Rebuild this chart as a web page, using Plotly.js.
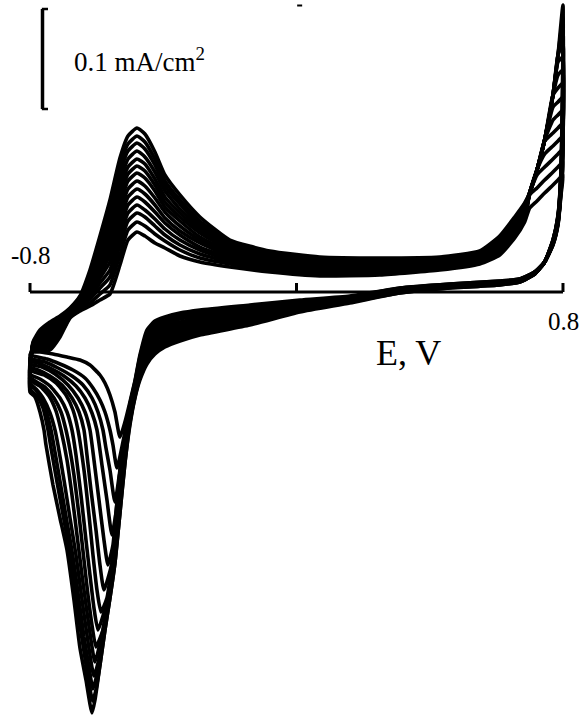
<!DOCTYPE html>
<html>
<head>
<meta charset="utf-8">
<script src="https://cdn.plot.ly/plotly-3.0.1.min.js"></script>
<style>
  html, body { margin: 0; padding: 0; background: #ffffff; }
  #chart { width: 586px; height: 718px; }
</style>
</head>
<body>
<div id="chart"></div>
<script>
// Repeated cyclic voltammograms, -0.8 V ... +0.8 V, 14 consecutive cycles (first cycle first).
// Currents are in µA/cm², potentials in V.

// Forward (anodic) sweep: potential grid shared by all cycles
const anodicE = [-0.800, -0.791, -0.770, -0.740, -0.710, -0.680, -0.650, -0.620, -0.590, -0.560,
                 -0.530, -0.506, -0.479, -0.455, -0.425, -0.395, -0.350, -0.290, -0.200, -0.080,
                  0.070,  0.250,  0.430,  0.550,  0.610,  0.655,  0.685,  0.700,  0.722,  0.745,
                  0.770,  0.785,  0.800];

// Forward sweep current of every cycle
const anodicI = [
  [-60,-60,-60,-58,-45,-26,-19,-14,-8,-2, 27,52,60,56,49,44,36,30,25,20, 16,17,22,28,37,54,70,84,91,99, 107,112,117],
  [-63,-59,-58,-55,-43,-25,-18,-11,-2,7, 37,62,70,66,58,51,42,34,28,22, 18,19,23,29,39,56,72,97,104,112, 120,125,130],
  [-66,-58,-56,-53,-41,-24,-16,-7,4,15, 47,71,79,75,66,57,47,38,30,24, 19,20,24,30,40,58,73,99,117,125, 133,138,143],
  [-69,-58,-54,-51,-40,-23,-15,-5,9,22, 55,79,87,82,73,63,52,42,32,25, 21,21,25,31,42,59,75,99,122,138, 146,151,156],
  [-72,-57,-53,-49,-38,-23,-14,-2,14,30, 63,87,95,90,80,69,57,45,34,27, 22,23,26,32,43,61,76,99,122,151, 159,164,169],
  [-75,-56,-51,-46,-36,-22,-13,1,18,37, 71,95,103,98,87,74,61,49,36,29, 24,24,27,33,45,63,78,99,122,152, 172,177,182],
  [-78,-55,-49,-44,-35,-21,-12,4,23,44, 79,103,111,106,94,80,66,52,38,30, 25,25,28,34,46,64,79,99,122,152, 185,190,195],
  [-82,-55,-48,-42,-33,-20,-10,6,28,51, 88,111,119,114,101,85,71,55,40,32, 27,27,29,35,48,66,81,99,122,152, 197,204,209],
  [-85,-54,-46,-40,-32,-20,-9,9,33,58, 95,118,126,121,107,90,75,59,42,33, 28,28,30,36,49,67,82,99,122,152, 197,217,222],
  [-88,-53,-45,-38,-30,-19,-8,11,37,64, 102,125,133,128,113,95,79,62,44,35, 29,29,31,37,50,69,83,99,122,152, 197,230,235],
  [-91,-52,-43,-36,-29,-18,-7,14,42,71, 110,133,141,135,120,101,83,65,46,36, 31,30,32,38,52,70,85,99,122,152, 197,237,248],
  [-94,-52,-41,-34,-27,-17,-6,17,47,78, 119,141,149,143,127,106,88,68,48,38, 32,32,33,39,53,72,86,99,122,152, 197,237,261],
  [-97,-51,-40,-32,-26,-17,-5,19,51,85, 126,148,156,150,133,111,92,71,50,39, 33,33,34,40,55,73,88,99,122,152, 197,237,274],
  [-100,-50,-38,-30,-24,-16,-4,22,56,92, 134,156,164,158,140,117,97,75,52,41, 35,34,35,41,56,75,89,99,122,152, 197,237,287]
];

// Reverse sweep from the switching potential down to -0.29 V
const reverseE = [0.794, 0.785, 0.770, 0.745, 0.715, 0.670, 0.610, 0.460, 0.310, 0.160, 0.010, -0.140, -0.290];

const reverseI = [
  [97,67,47,30,20,13,11,8,4,-4,-8,-13,-18],
  [100,68,47,30,20,13,11,8,4,-5,-9,-15,-20],
  [102,69,48,30,20,13,10,7,3,-5,-10,-16,-22],
  [104,69,48,30,20,12,10,7,3,-6,-11,-18,-24],
  [106,70,49,30,19,12,10,7,2,-6,-12,-19,-26],
  [108,71,49,30,19,12,9,6,2,-7,-13,-21,-28],
  [110,72,50,30,19,12,9,6,2,-7,-14,-22,-30],
  [112,72,50,30,19,11,9,6,1,-8,-14,-24,-31],
  [114,73,50,30,19,11,9,6,1,-8,-15,-25,-33],
  [116,74,51,30,19,11,8,5,1,-9,-16,-27,-35],
  [117,75,51,30,18,11,8,5,0,-9,-17,-28,-37],
  [119,75,52,30,18,10,8,5,0,-10,-18,-30,-39],
  [121,76,52,30,18,10,7,4,-1,-10,-19,-31,-41],
  [122,77,52,30,18,10,7,4,-1,-11,-20,-33,-43]
];

// Cathodic peak region of the reverse sweep, -0.35 V down to -0.8 V
const peakE = [
  [-0.350,-0.395,-0.425,-0.449,-0.470,-0.485,-0.500,-0.515,-0.530,-0.545,-0.560,-0.575,-0.590,-0.620,-0.650,-0.689,-0.731,-0.770,-0.800],
  [-0.350,-0.395,-0.425,-0.449,-0.470,-0.485,-0.500,-0.518,-0.539,-0.551,-0.560,-0.575,-0.590,-0.611,-0.635,-0.671,-0.710,-0.749,-0.800],
  [-0.350,-0.395,-0.425,-0.449,-0.470,-0.485,-0.500,-0.527,-0.545,-0.560,-0.572,-0.581,-0.596,-0.614,-0.641,-0.674,-0.716,-0.755,-0.800],
  [-0.350,-0.395,-0.425,-0.449,-0.470,-0.485,-0.500,-0.527,-0.542,-0.554,-0.569,-0.584,-0.599,-0.614,-0.635,-0.662,-0.698,-0.740,-0.776,-0.800],
  [-0.350,-0.395,-0.425,-0.449,-0.470,-0.485,-0.500,-0.527,-0.542,-0.551,-0.566,-0.578,-0.593,-0.608,-0.620,-0.635,-0.656,-0.686,-0.725,-0.764,-0.800],
  [-0.350,-0.395,-0.425,-0.449,-0.470,-0.485,-0.500,-0.524,-0.539,-0.554,-0.578,-0.590,-0.602,-0.617,-0.629,-0.638,-0.653,-0.674,-0.704,-0.740,-0.776,-0.800],
  [-0.350,-0.395,-0.425,-0.449,-0.470,-0.485,-0.500,-0.524,-0.539,-0.554,-0.569,-0.587,-0.599,-0.611,-0.623,-0.638,-0.656,-0.671,-0.692,-0.722,-0.758,-0.800],
  [-0.350,-0.395,-0.425,-0.449,-0.470,-0.485,-0.500,-0.521,-0.536,-0.551,-0.566,-0.596,-0.608,-0.620,-0.632,-0.647,-0.662,-0.674,-0.689,-0.710,-0.740,-0.770,-0.800],
  [-0.350,-0.395,-0.425,-0.449,-0.470,-0.485,-0.500,-0.521,-0.536,-0.551,-0.566,-0.581,-0.602,-0.614,-0.626,-0.638,-0.653,-0.668,-0.680,-0.692,-0.707,-0.728,-0.755,-0.800],
  [-0.350,-0.395,-0.425,-0.449,-0.470,-0.485,-0.500,-0.521,-0.536,-0.551,-0.566,-0.581,-0.605,-0.617,-0.629,-0.644,-0.659,-0.674,-0.689,-0.707,-0.722,-0.743,-0.770,-0.800],
  [-0.350,-0.395,-0.425,-0.449,-0.470,-0.485,-0.500,-0.518,-0.533,-0.548,-0.563,-0.578,-0.590,-0.608,-0.620,-0.632,-0.647,-0.662,-0.680,-0.698,-0.716,-0.725,-0.740,-0.761,-0.782,-0.800],
  [-0.350,-0.395,-0.425,-0.449,-0.470,-0.485,-0.500,-0.518,-0.533,-0.548,-0.563,-0.578,-0.593,-0.611,-0.623,-0.638,-0.653,-0.671,-0.689,-0.707,-0.725,-0.737,-0.752,-0.770,-0.788,-0.800],
  [-0.350,-0.395,-0.425,-0.449,-0.470,-0.485,-0.500,-0.515,-0.530,-0.545,-0.560,-0.575,-0.590,-0.602,-0.612,-0.626,-0.641,-0.659,-0.677,-0.698,-0.719,-0.737,-0.746,-0.761,-0.779,-0.800],
  [-0.350,-0.395,-0.425,-0.449,-0.470,-0.485,-0.500,-0.515,-0.530,-0.545,-0.560,-0.575,-0.590,-0.605,-0.614,-0.632,-0.650,-0.668,-0.689,-0.710,-0.731,-0.752,-0.758,-0.770,-0.785,-0.800]
];

const peakI = [
  [-21,-25,-29,-38,-63,-89,-110,-130,-145,-120,-103,-91,-83,-73,-68,-65,-62,-60,-60],
  [-23,-27,-32,-41,-65,-90,-112,-145,-176,-153,-138,-120,-108,-96,-86,-78,-72,-67,-63],
  [-25,-30,-34,-43,-67,-92,-114,-171,-210,-178,-156,-138,-120,-106,-93,-84,-76,-70,-66],
  [-27,-32,-37,-46,-69,-93,-115,-171,-221,-243,-208,-173,-138,-121,-106,-94,-84,-76,-71,-69],
  [-30,-34,-39,-48,-71,-94,-117,-171,-221,-253,-273,-248,-208,-168,-138,-120,-106,-93,-82,-75,-72],
  [-32,-37,-42,-51,-73,-96,-119,-171,-221,-271,-298,-273,-238,-198,-163,-138,-120,-106,-93,-84,-78,-75],
  [-34,-39,-44,-54,-75,-97,-121,-171,-221,-271,-306,-320,-298,-263,-223,-178,-138,-118,-103,-91,-83,-78],
  [-36,-41,-47,-56,-76,-98,-122,-171,-221,-271,-306,-338,-316,-283,-248,-203,-163,-138,-120,-106,-94,-87,-82],
  [-38,-43,-49,-59,-78,-99,-124,-171,-221,-271,-306,-338,-355,-333,-303,-268,-223,-183,-158,-138,-120,-106,-95,-85],
  [-40,-46,-52,-62,-80,-101,-126,-171,-221,-271,-306,-338,-370,-348,-320,-283,-243,-203,-168,-138,-119,-104,-94,-88],
  [-43,-48,-54,-64,-82,-102,-128,-171,-221,-271,-306,-338,-363,-384,-363,-336,-300,-263,-226,-188,-153,-138,-121,-106,-97,-91],
  [-45,-50,-57,-67,-84,-103,-129,-171,-221,-271,-306,-338,-373,-397,-375,-345,-308,-265,-230,-195,-160,-138,-118,-104,-96,-94],
  [-47,-53,-59,-69,-86,-105,-131,-171,-221,-271,-306,-338,-373,-398,-409,-385,-353,-313,-268,-228,-190,-156,-138,-116,-104,-97],
  [-49,-55,-62,-72,-88,-106,-133,-171,-221,-271,-306,-338,-373,-408,-421,-388,-356,-308,-258,-226,-193,-153,-138,-120,-105,-100]
];

// Potential axis labels and the current scale bar
const axisTicks = [-0.8, 0, 0.8];
const scaleBar = { top: 283, length: 100, label: '0.1 mA/cm<sup>2</sup>' };

const traces = anodicI.map((row, k) => ({
  type: 'scatter',
  mode: 'lines',
  x: anodicE.concat(reverseE, peakE[k]),
  y: row.concat(reverseI[k], peakI[k]),
  line: { color: '#000000', width: 3.6, shape: 'spline', smoothing: 0.5 },
  hoverinfo: 'skip',
  showlegend: false
}));

const shapes = [];
// potential axis drawn through zero current
shapes.push({ type: 'line', xref: 'x', yref: 'y', x0: -0.8, x1: 0.8, y0: 0, y1: 0,
              line: { color: '#000', width: 3 } });
axisTicks.forEach(v => shapes.push({ type: 'line', xref: 'x', yref: 'y', x0: v, x1: v, y0: 0, y1: 9,
              line: { color: '#000', width: 3 } }));
// scale bar bracket
const sbX = -0.7625, sbX2 = -0.746;
shapes.push({ type: 'line', xref: 'x', yref: 'y', x0: sbX, x1: sbX, y0: scaleBar.top, y1: scaleBar.top - scaleBar.length,
              line: { color: '#000', width: 3.5 } });
shapes.push({ type: 'line', xref: 'x', yref: 'y', x0: sbX - 0.002, x1: sbX2, y0: scaleBar.top, y1: scaleBar.top,
              line: { color: '#000', width: 2.5 } });
shapes.push({ type: 'line', xref: 'x', yref: 'y', x0: sbX - 0.002, x1: sbX2, y0: scaleBar.top - scaleBar.length, y1: scaleBar.top - scaleBar.length,
              line: { color: '#000', width: 2.5 } });
// short mark above the middle of the potential range
shapes.push({ type: 'line', xref: 'x', yref: 'y', x0: 0.002, x1: 0.017, y0: 286.5, y1: 286.5,
              line: { color: '#000', width: 2 } });

const serif = 'Liberation Serif, Times New Roman, serif';
const annotations = [
  { xref: 'x', yref: 'y', x: -0.797, y: 0, text: '-0.8', showarrow: false,
    xanchor: 'center', yanchor: 'bottom', yshift: 21, font: { family: serif, size: 25, color: '#000' } },
  { xref: 'x', yref: 'y', x: 0.803, y: 0, text: '0.8', showarrow: false,
    xanchor: 'center', yanchor: 'top', yshift: -14, font: { family: serif, size: 25, color: '#000' } },
  { xref: 'x', yref: 'y', x: 0.336, y: 0, text: 'E, V', showarrow: false,
    xanchor: 'center', yanchor: 'top', yshift: -39, font: { family: serif, size: 36, color: '#000' } },
  { xref: 'x', yref: 'y', x: -0.674, y: 232, text: scaleBar.label, showarrow: false,
    xanchor: 'left', yanchor: 'middle', font: { family: serif, size: 27, color: '#000' } }
];

const layout = {
  width: 586,
  height: 718,
  margin: { l: 0, r: 0, t: 0, b: 0, pad: 0 },
  paper_bgcolor: '#ffffff',
  plot_bgcolor: '#ffffff',
  showlegend: false,
  font: { family: serif, color: '#000' },
  xaxis: { range: [-0.8901, 0.8691], visible: false, fixedrange: true },
  yaxis: { range: [-426, 292], visible: false, fixedrange: true },
  shapes: shapes,
  annotations: annotations
};

Plotly.newPlot('chart', traces, layout, { staticPlot: true, displayModeBar: false });
</script>
</body>
</html>
